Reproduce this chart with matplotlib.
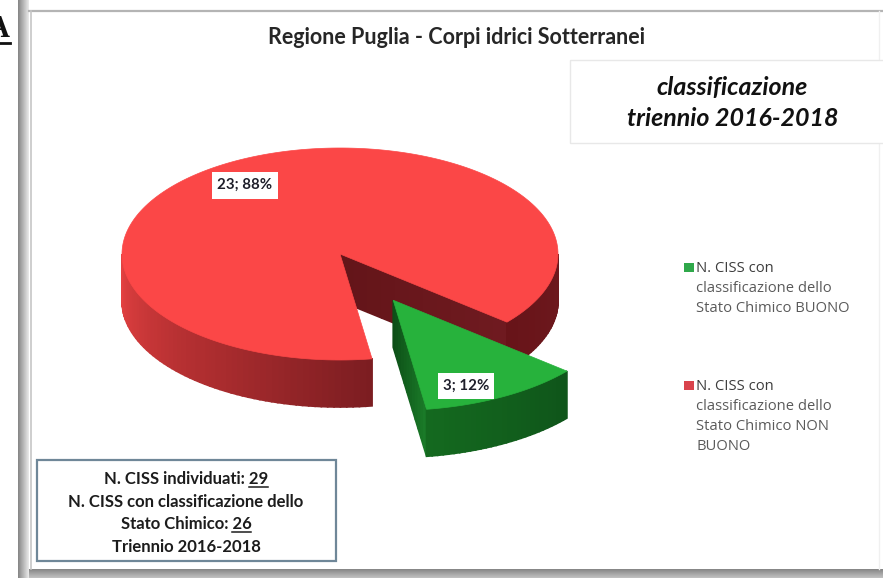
import numpy as np
import matplotlib
matplotlib.use('Agg')
import matplotlib.pyplot as plt
from matplotlib.colors import to_rgb
from matplotlib.patches import Polygon, Rectangle

title = 'Regione Puglia - Corpi idrici Sotterranei'
note_lines = ['classificazione', 'triennio 2016-2018']
counts = [3, 23]
legend_lines = [
    ['N. CISS con', 'classificazione dello', 'Stato Chimico BUONO'],
    ['N. CISS con', 'classificazione dello', 'Stato Chimico NON', 'BUONO'],
]
box_lines = [
    ('N. CISS individuati: ', '29'),
    ('N. CISS con classificazione dello', ''),
    ('Stato Chimico: ', '26'),
    ('Triennio 2016-2018', ''),
]

RED_TOP = '#fb4747'
GREEN_TOP = '#27b23c'

# pie geometry, pixels
CX, CY = 340, 254
RX, RY = 218, 106
DEPTH = 47
START = 40
EXPLODE = 0.5
NEAR = 1.04  # the pulled slice looks a bit larger

fig = plt.figure(figsize=(8.83, 5.78), dpi=100)
ax = fig.add_axes([0, 0, 1, 1])
ax.axis('off')


def pt(t, ox=0, oy=0, dz=0, s=1):
    t = np.radians(t)
    return np.column_stack([CX + ox + s * RX * np.cos(t), CY + oy + s * RY * np.sin(t) + dz])


def arc(t0, t1, n=120):
    return np.linspace(t0, t1, n)


def mix(c0, c1, f):
    c0, c1 = np.array(to_rgb(c0)), np.array(to_rgb(c1))
    return tuple(c0 + (c1 - c0) * f)


def side(t0, t1, c0, c1, ox=0, oy=0, z=2, s=1):
    # outer rim split in strips so the shade can change along it
    ts = arc(t0, t1, 30)
    for i in range(len(ts) - 1):
        p = pt(ts[i:i + 2], ox, oy, 0, s)
        q = pt(ts[i:i + 2][::-1], ox, oy, DEPTH, s)
        col = mix(c0, c1, i / (len(ts) - 2))
        ax.add_patch(Polygon(np.vstack([p, q]), fc=col, ec=col, lw=1.2, zorder=z))


def wall(t, c0, c1, ox=0, oy=0, z=2, s=1):
    # cut face between the pie centre and the rim
    x0, y0 = CX + ox, CY + oy
    e = pt([t], ox, oy, 0, s)[0]
    for i in range(12):
        a, b = i / 12, (i + 1) / 12
        p0 = [x0 + (e[0] - x0) * a, y0 + (e[1] - y0) * a]
        p1 = [x0 + (e[0] - x0) * b, y0 + (e[1] - y0) * b]
        col = mix(c0, c1, i / 11)
        ax.add_patch(Polygon([p0, p1, [p1[0], p1[1] + DEPTH], [p0[0], p0[1] + DEPTH]],
                             fc=col, ec=col, lw=1.2, zorder=z))


def top(t0, t1, color, ox=0, oy=0, z=3, s=1):
    pts = np.vstack([[[CX + ox, CY + oy]], pt(arc(t0, t1, 240), ox, oy, 0, s)])
    ax.add_patch(Polygon(pts, fc=color, ec=color, lw=0.5, zorder=z))


total = sum(counts)
sweep_green = 360 * counts[0] / total
g0, g1 = START, START + sweep_green
mid = np.radians((g0 + g1) / 2)
gx = RX * np.cos(mid) * EXPLODE
gy = RY * np.sin(mid) * EXPLODE

# red slice
wall(g0, '#641519', '#6f1a20')
side(0, g0, '#6e191e', '#681419')
side(g1, 130, '#7c1d21', '#b02e30')
side(130, 180, '#b02e30', '#e44141')
top(g1, START + 360, RED_TOP)

# green slice, pulled out
wall(g1, '#0d4f17', '#1a7a28', gx, gy, z=4, s=NEAR)
side(g0, g1, '#0f551a', '#14691f', gx, gy, z=4, s=NEAR)
top(g0, g1, GREEN_TOP, gx, gy, z=5, s=NEAR)

# frame around the slide
band = np.linspace(0.52, 0.92, 64).reshape(1, -1)
ax.imshow(band, extent=(18, 29, 578, 0), cmap='gray', vmin=0, vmax=1, aspect='auto', zorder=1)
band2 = np.linspace(0.52, 0.76, 64).reshape(-1, 1)
ax.imshow(band2, extent=(29, 883, 578, 569), cmap='gray', vmin=0, vmax=1, aspect='auto', zorder=1)
ax.plot([29, 883], [11, 11], color='#b4b4b4', lw=1.6, zorder=1)
ax.plot([30.5, 30.5], [11, 569], color='#c6c6c6', lw=1.2, zorder=1)
ax.plot([879, 879], [11, 569], color='#f0f0f0', lw=1.0, zorder=1)
ax.set_xlim(0, 883)
ax.set_ylim(578, 0)

ax.text(10, 37, 'A', family='Liberation Serif', weight='bold', fontsize=22, color='#111111',
        ha='right', va='baseline')
ax.plot([0, 10], [43, 43], color='#111111', lw=2)

ax.text(456, 37, title, family='Lato', weight='bold', fontsize=15.5, color='#262626',
        ha='center', va='center', zorder=6)

ax.add_patch(Rectangle((570, 60), 320, 83, fc='white', ec='#e8e8e8', lw=1, zorder=2))
ax.text(732, 88, note_lines[0], family='Lato', style='italic', weight='bold', fontsize=18,
        color='#111111', ha='center', va='center', zorder=6)
ax.text(733, 119, note_lines[1], family='Lato', style='italic', weight='bold', fontsize=18,
        color='#111111', ha='center', va='center', zorder=6)


def value_label(x, y, w, h, v):
    ax.add_patch(Rectangle((x - w / 2, y - h / 2), w, h, fc='white', ec='none', zorder=7))
    ax.text(x, y, f'{v}; {round(100 * v / total)}%', family='Lato', weight='bold', fontsize=10.8,
            color='#1e1e2a', ha='center', va='center', zorder=8)


value_label(466, 386, 56, 26, counts[0])
value_label(245, 185, 66, 27, counts[1])

# legend
legend_y = [268, 386]
legend_colors = ['#2fa84a', '#d9434c']
for y0, col, lines in zip(legend_y, legend_colors, legend_lines):
    ax.add_patch(Rectangle((684, y0 - 5), 10, 9, fc=col, ec='none', zorder=3))
    for i, line in enumerate(lines):
        ax.text(696.5, y0 + i * 20, line, family='Open Sans', fontsize=10.6,
                color='#3c3c3c' if i == 0 else '#5a5a5a', ha='left', va='center')

# summary box
ax.add_patch(Rectangle((37, 460), 299, 101, fc='white', ec='#6f8798', lw=1.6, zorder=2))
renderer = fig.canvas.get_renderer()
for i, (head, num) in enumerate(box_lines):
    y = 479 + i * 22.7
    t = ax.text(186, y, head + num, family='Lato', weight='bold', fontsize=12, color='#1c1c1c',
                ha='center', va='center', zorder=6)
    if num:
        # underline only the number at the end of the line
        ext = t.get_window_extent(renderer)
        probe = ax.text(0, 0, num, family='Lato', weight='bold', fontsize=12)
        w = probe.get_window_extent(renderer).width
        probe.remove()
        ax.plot([ext.x1 - w, ext.x1], [y + 7.5, y + 7.5], color='#1c1c1c', lw=1.1, zorder=6)

fig.savefig('out.png', dpi=100)
